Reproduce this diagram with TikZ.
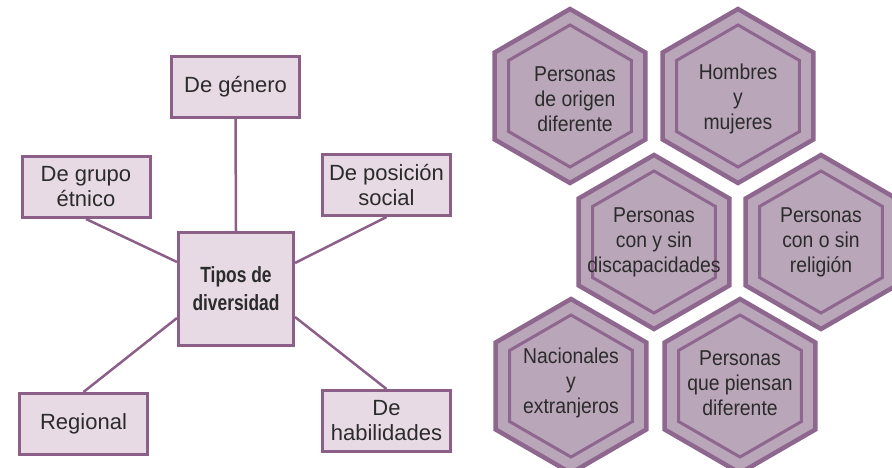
\documentclass[tikz,border=0pt]{standalone}
\usepackage{fontspec}
\setmainfont{Liberation Sans}
\newfontfamily\hexfont{Liberation Sans}[FakeStretch=0.9]
\newfontfamily\boldcond{Liberation Sans}[FakeStretch=0.79]
\usetikzlibrary{shapes.geometric}

\definecolor{boxfill}{HTML}{E8DAE4}
\definecolor{boxline}{HTML}{8C5F88}
\definecolor{hexfill}{HTML}{B9A6B9}
\definecolor{hexline}{HTML}{8E678E}
\definecolor{textgray}{HTML}{2B2B2B}

\tikzset{
    kind/.style={draw=boxline, line width=3pt, fill=boxfill, minimum width=128pt,
        minimum height=61pt, align=center, text=textgray, inner sep=0pt,
        font=\fontsize{22}{25}\selectfont},
    centre/.style={kind, minimum width=115pt, minimum height=113pt,
        font=\boldcond\bfseries\fontsize{22}{28}\selectfont},
    link/.style={draw=boxline, line width=2.5pt},
    hexouter/.style={regular polygon, regular polygon sides=6, shape border rotate=30,
        minimum size=174pt, inner sep=0pt, outer sep=0pt, draw=hexline,
        line width=4.5pt, fill=hexfill},
    hexinner/.style={regular polygon, regular polygon sides=6, shape border rotate=30,
        minimum size=142pt, inner sep=0pt, outer sep=0pt, draw=hexline,
        line width=3pt},
    hexlabel/.style={align=center, text=textgray, inner sep=0pt,
        font=\hexfont\fontsize{21.5}{25}\selectfont}
}

\begin{document}
\begin{tikzpicture}[x=1pt, y=-1pt]
    \useasboundingbox (0,0) rectangle (892,468);
    \clip (0,0) rectangle (892,468);

    % tipos de diversidad
    \node[centre] (tipos) at (236,289) {Tipos de\\diversidad};
    \node[kind] (genero) at (235.5,87) {De género};
    \node[kind] (etnico) at (86,187) {De grupo\\étnico};
    \node[kind] (social) at (386.5,185) {De posición\\social};
    \node[kind] (regional) at (83.5,424) {Regional};
    \node[kind] (habil) at (386.5,421) {De\\habilidades};

    \draw[link] (genero.south) -- (tipos.north);
    \draw[link] (etnico.south) -- ([yshift=27pt]tipos.west);
    \draw[link] (social.south) -- ([yshift=26pt]tipos.east);
    \draw[link] (regional.north) -- ([yshift=-29pt]tipos.west);
    \draw[link] (habil.north) -- ([yshift=-28pt]tipos.east);

    % panal
    \node[hexouter] (origen) at (570,96) {};
    \node[hexinner] at (origen.center) {};
    \node[hexlabel] at ([xshift=5pt,yshift=-3pt]origen.center) {Personas\\de origen\\diferente};

    \node[hexouter] (genres) at (738,96) {};
    \node[hexinner] at (genres.center) {};
    \node[hexlabel] at ([yshift=-3pt]genres.center) {Hombres\\y\\mujeres};

    \node[hexouter] (capac) at (654,242) {};
    \node[hexinner] at (capac.center) {};
    \node[hexlabel] at (capac.center) {Personas\\con y sin\\discapacidades};

    \node[hexouter] (religion) at (821,242) {};
    \node[hexinner] at (religion.center) {};
    \node[hexlabel] at (religion.center) {Personas\\con o sin\\religión};

    \node[hexouter] (nacion) at (571,386) {};
    \node[hexinner] at (nacion.center) {};
    \node[hexlabel] at ([yshift=3pt]nacion.center) {Nacionales\\y\\extranjeros};

    \node[hexouter] (piensan) at (740,386) {};
    \node[hexinner] at (piensan.center) {};
    \node[hexlabel] at ([yshift=3pt]piensan.center) {Personas\\que piensan\\diferente};
\end{tikzpicture}
\end{document}
